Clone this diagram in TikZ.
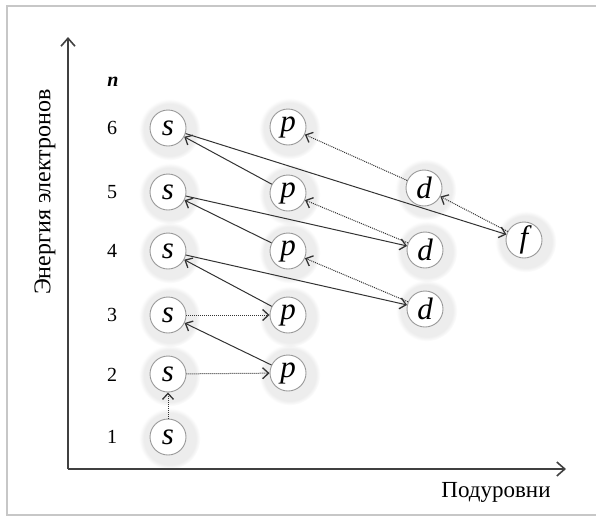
\documentclass[tikz,border=0pt]{standalone}
\usepackage{fontspec}
\setmainfont{Liberation Serif}
\usetikzlibrary{arrows.meta,shadows,fadings}
\tikzset{
	orb/.style={circle, draw=black!40, line width=0.9pt, fill=white, minimum size=36pt, inner sep=0pt,
		font=\fontsize{31}{31}\selectfont\itshape,
		circular drop shadow={shadow scale=1.7, shadow xshift=1pt, shadow yshift=-1pt, opacity=0.14}},
	jump/.style={draw=black!80, line width=1pt, -{Straight Barb[length=6pt,width=11pt,line width=1.3pt]}},
	hop/.style={jump, densely dotted},
	axis/.style={draw=black!75, line width=1.6pt, -{Straight Barb[length=8pt,width=14pt]}},
	level/.style={font=\fontsize{20}{20}\selectfont},
}

\begin{document}
\begin{tikzpicture}[x=1pt, y=-1pt]
			%%%%% START %%%%%
			\useasboundingbox (0,0) rectangle (596,517);
			\draw[line width=1.6pt, color=black!22] (598,6) -- (7,6) -- (7,515) -- (598,515);
			
			\coordinate (origin) at (68,469);
			\coordinate (ytip) at (68,37);
			\coordinate (xtip) at (566,469);
			\draw[axis] (origin) -- (ytip);
			\draw[axis] (origin) -- (xtip);
			
			\node[rotate=90, font=\fontsize{24}{24}\selectfont] (energy) at (45,192) {Энергия электронов};
			\node[font=\fontsize{23}{23}\selectfont] (sublevels) at (496,492) {Подуровни};
			
			\node[level, font=\fontsize{20}{20}\selectfont\bfseries\itshape] (n) at (113,82) {n};
			\node[level] (n6) at (112,128) {6};
			\node[level] (n5) at (112,192) {5};
			\node[level] (n4) at (112,251) {4};
			\node[level] (n3) at (112,315) {3};
			\node[level] (n2) at (112,375) {2};
			\node[level] (n1) at (112,437) {1};
			
			\node[orb] (s6) at (168,128) {s};
			\node[orb] (s5) at (168,192) {s};
			\node[orb] (s4) at (168,251) {s};
			\node[orb] (s3) at (168,315) {s};
			\node[orb] (s2) at (168,374) {s};
			\node[orb] (s1) at (168,437) {s};
			
			\node[orb] (p6) at (288,127) {p};
			\node[orb] (p5) at (288,193) {p};
			\node[orb] (p4) at (288,251) {p};
			\node[orb] (p3) at (288,315) {p};
			\node[orb] (p2) at (288,373) {p};
			
			\node[orb] (d5) at (424,188) {d};
			\node[orb] (d4) at (425,250) {d};
			\node[orb] (d3) at (425,309) {d};
			
			\node[orb] (f4) at (524,240) {f};
			
			\draw[hop] (s1) -- (s2);
			\draw[hop] (s2) -- (p2);
			\draw[jump] (p2) -- (s3);
			\draw[hop] (s3) -- (p3);
			\draw[jump] (p3) -- (s4);
			\draw[jump] (s4) -- (d3);
			\draw[hop] (d3) -- (p4);
			\draw[jump] (p4) -- (s5);
			\draw[jump] (s5) -- (d4);
			\draw[hop] (d4) -- (p5);
			\draw[jump] (p5) -- (s6);
			\draw[jump] (s6) -- (f4);
			\draw[hop] (f4) -- (d5);
			\draw[hop] (d5) -- (p6);
			
			%%%%% END %%%%%
\end{tikzpicture}
\end{document}
